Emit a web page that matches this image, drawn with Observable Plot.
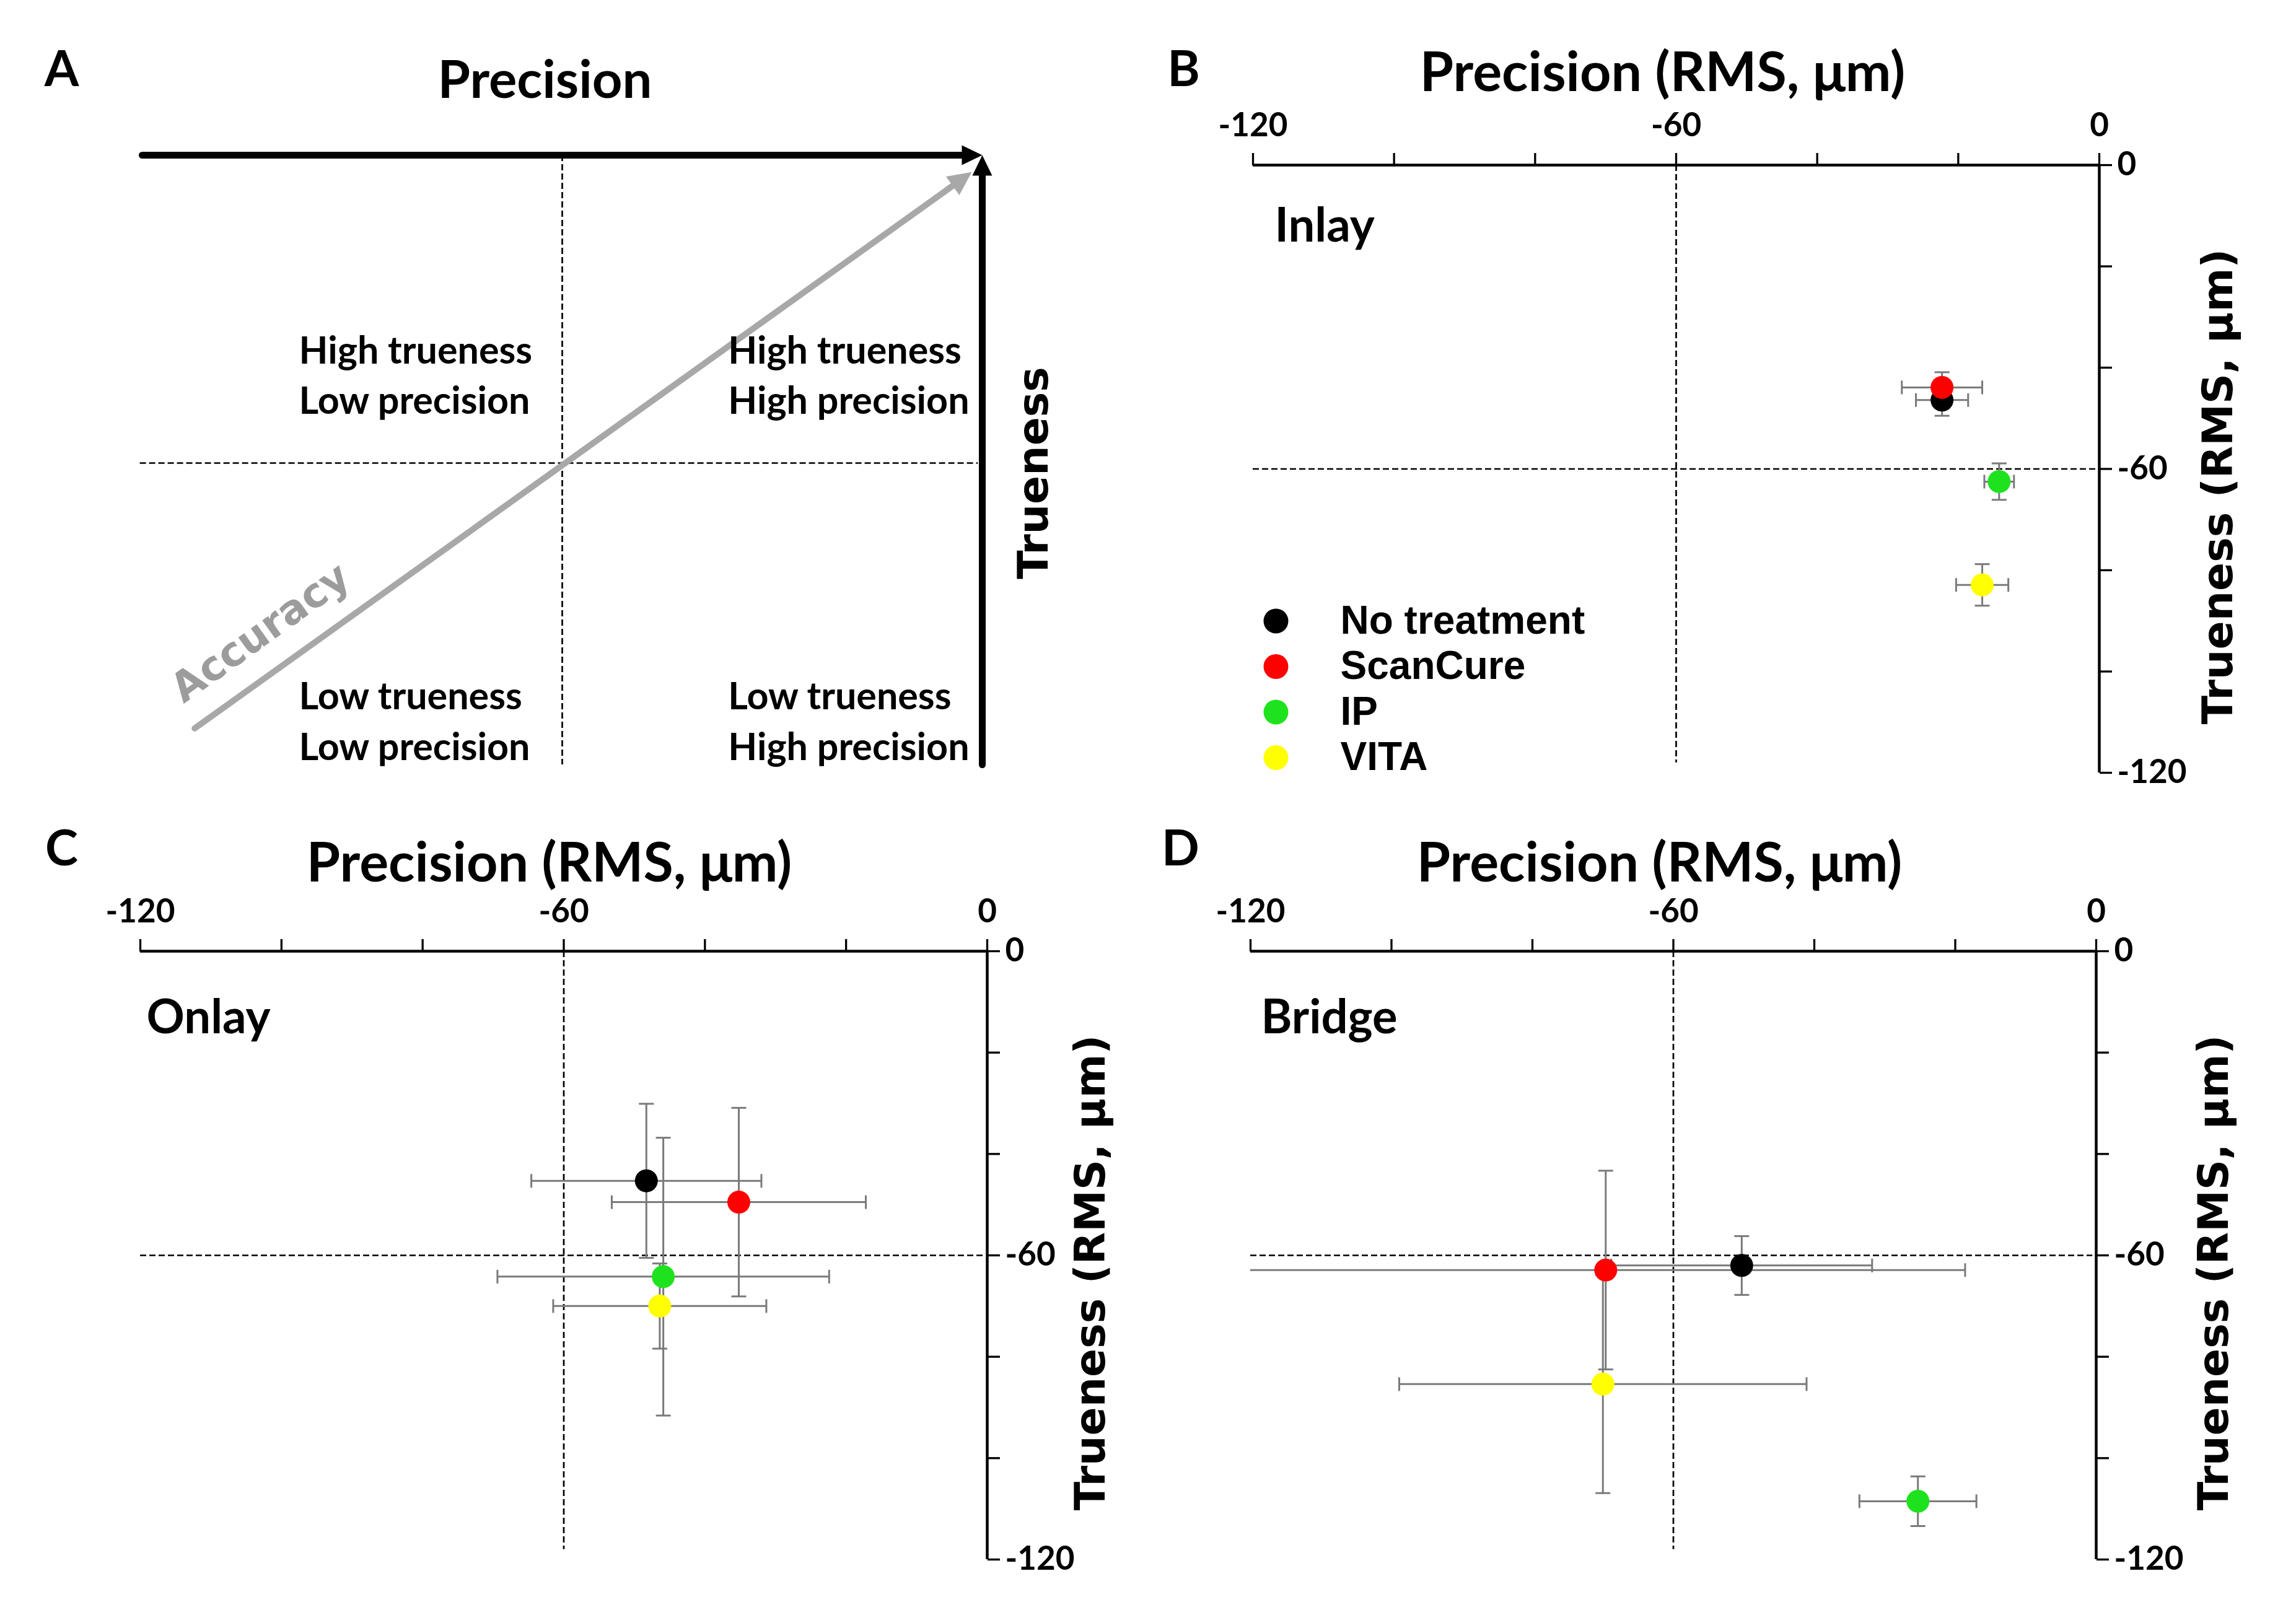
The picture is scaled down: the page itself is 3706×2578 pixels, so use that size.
<!DOCTYPE html>
<html><head><meta charset="utf-8">
<script src="https://cdn.jsdelivr.net/npm/d3@7"></script>
<script src="https://cdn.jsdelivr.net/npm/@observablehq/plot@0.6"></script>
<style>
html,body{margin:0;padding:0;background:#fff;}
#fig{position:relative;width:3706px;height:2578px;background:#fff;overflow:hidden;}
#fig svg{position:absolute;left:0;top:0;max-width:none;}
</style></head><body><div id="fig"></div>
<script>
// ---------- data ----------
const groups = ["No treatment", "ScanCure", "IP", "VITA"];
const groupColors = ["#000000", "#ff0000", "#1fe21f", "#ffff00"];
const xTicks = [-120, -100, -80, -60, -40, -20, 0];
const yTicks = [-120, -100, -80, -60, -40, -20, 0];
const tickLabels = [-120, -60, 0];

// Inlay (B)
const inlayPrecision   = [-22.3, -22.3, -14.2, -16.6];
const inlayPrecisionSD = [3.7, 5.7, 2.1, 3.7];
const inlayTrueness    = [-46.4, -43.9, -62.5, -82.9];
const inlayTruenessSD  = [3.1, 3.0, 3.6, 4.1];
// Onlay (C)
const onlayPrecision   = [-48.3, -35.2, -45.9, -46.4];
const onlayPrecisionSD = [16.3, 18.0, 23.5, 15.1];
const onlayTrueness    = [-45.3, -49.5, -64.2, -70.0];
const onlayTruenessSD  = [15.2, 18.6, 27.4, 8.4];
// Bridge (D)
const bridgePrecision   = [-50.3, -69.6, -25.3, -70.0];
const bridgePrecisionSD = [18.5, 51.0, 8.3, 28.9];
const bridgeTrueness    = [-62.0, -62.9, -108.5, -85.4];
const bridgeTruenessSD  = [5.8, 19.6, 4.9, 21.5];

// Diagram (A)
const quadrantLabels = [
  {x: -97.6, y: -42.4, text: "High trueness\nLow precision"},
  {x: -36.3, y: -42.4, text: "High trueness\nHigh precision"},
  {x: -97.6, y: -109.8, text: "Low trueness\nLow precision"},
  {x: -36.3, y: -109.8, text: "Low trueness\nHigh precision"}
];
const diagramArrows = [
  {x1: -120, y1: 0, x2: 0, y2: 0, color: "#000000", width: 11, head: 1},
  {x1: 0, y1: -118.8, x2: 0, y2: 0, color: "#000000", width: 11, head: 1},
  {x1: -112.5, y1: -111.7, x2: -1.5, y2: -3.3, color: "#a8a8a8", width: 10, head: 1.15}
];
const accuracyLabel = {x: -103.1, y: -93.1, text: "Accuracy"};

// ---------- layout ----------
const W = 3706, H = 2578;
const F = {
  A: {left: 229, right: 1585, top: 250, bottom: 1244},
  B: {left: 2022, right: 3388, top: 266, bottom: 1247},
  C: {left: 226, right: 1593, top: 1535, bottom: 2517},
  D: {left: 2018, right: 3383, top: 1535, bottom: 2517}
};
const CAL = "Lato, 'Open Sans', sans-serif";
const VER = "'DejaVu Sans', Verdana, sans-serif";
const ARI = "'Liberation Sans', Arial, sans-serif";
const GRAY = "#7a7a7a";
const dashed = {stroke: "black", strokeWidth: 2.7, strokeDasharray: "10,5"};
const vCap = {draw(c) { c.moveTo(0, -11); c.lineTo(0, 11); }};
const hCap = {draw(c) { c.moveTo(-12, 0); c.lineTo(12, 0); }};
const makeHead = s => ({draw(c) { c.moveTo(0, 0); c.lineTo(16 * s, 33 * s); c.lineTo(-16 * s, 33 * s); c.closePath(); }});
const fmt = d => tickLabels.includes(d) ? String(d) : "";

function label(f, text, X, Y, o = {}) {
  return Plot.text([text], {
    frameAnchor: "top-left", dx: X - f.left, dy: Y - f.top, text: d => d,
    textAnchor: "middle", lineAnchor: "middle",
    fill: "black", fontFamily: CAL, fontWeight: "bold", ...o
  });
}
function base(f, marks, extra = {}) {
  return Plot.plot({
    width: W, height: H,
    marginLeft: f.left, marginRight: W - f.right, marginTop: f.top, marginBottom: H - f.bottom,
    x: {domain: [-120, 0]}, y: {domain: [-120, 0]},
    color: {domain: groups, range: groupColors},
    style: {background: "transparent", overflow: "visible"},
    marks, ...extra
  });
}

function diagramPanel() {
  const f = F.A;
  const kx = (f.right - f.left) / 120, ky = (f.bottom - f.top) / 120;
  const marks = [
    Plot.ruleX([-60], {y1: 0, y2: -118.8, ...dashed}),
    Plot.ruleY([-60], {x1: -120.3, x2: -0.6, ...dashed}),
    ...diagramArrows.map(a => Plot.arrow([a], {
      x1: "x1", y1: "y1", x2: "x2", y2: "y2",
      stroke: a.color, strokeWidth: a.width, headLength: 0, insetEnd: 20
    })),
    ...diagramArrows.map(a => Plot.dot([a], {
      x: "x2", y: "y2", symbol: makeHead(a.head), fill: a.color, stroke: "none", r: 10,
      rotate: Math.atan2((a.x2 - a.x1) * kx, (a.y2 - a.y1) * ky) * 180 / Math.PI
    })),
    Plot.text(quadrantLabels, {x: "x", y: "y", text: "text", textAnchor: "start", lineHeight: 1.33,
      fontFamily: CAL, fontWeight: "bold", fontSize: 61, fill: "black"}),
    Plot.text([accuracyLabel], {x: "x", y: "y", text: "text", rotate: -35.6,
      fontFamily: VER, fontWeight: "bold", fontSize: 66, fill: "#9c9c9c"}),
    label(f, "A", 99, 113, {fontSize: 80}),
    label(f, "Precision", 879, 130, {fontSize: 85}),
    label(f, "Trueness", 1669, 763, {fontSize: 68, fontFamily: VER, rotate: -90})
  ];
  return base(f, marks, {x: {domain: [-120, 0], axis: null}, y: {domain: [-120, 0], axis: null}});
}

function dataPanel(key, letter, name, P, PS, T, TS, pos, legend) {
  const f = F[key];
  const rows = groups.map((g, i) => ({group: g, p: P[i], ps: PS[i], t: T[i], ts: TS[i]}));
  const bar = {stroke: GRAY, strokeWidth: 3};
  const marks = [
    Plot.ruleX([-60], {y1: 0, y2: -118, ...dashed}),
    Plot.ruleY([-60], {x1: -120, x2: -0.5, ...dashed}),
    Plot.ruleY(rows, {y: "t", x1: d => d.p - d.ps, x2: d => d.p + d.ps, ...bar, clip: true}),
    Plot.ruleX(rows, {x: "p", y1: d => d.t - d.ts, y2: d => d.t + d.ts, ...bar, clip: true}),
    Plot.dot(rows, {x: d => d.p - d.ps, y: "t", symbol: vCap, fill: "none", ...bar, clip: true}),
    Plot.dot(rows, {x: d => d.p + d.ps, y: "t", symbol: vCap, fill: "none", ...bar, clip: true}),
    Plot.dot(rows, {x: "p", y: d => d.t - d.ts, symbol: hCap, fill: "none", ...bar, clip: true}),
    Plot.dot(rows, {x: "p", y: d => d.t + d.ts, symbol: hCap, fill: "none", ...bar, clip: true}),
    Plot.dot(rows, {x: "p", y: "t", fill: "group", r: 18.5}),
    Plot.ruleY([0], {x1: -120, x2: 0, stroke: "black", strokeWidth: 4.5}),
    Plot.ruleX([0], {y1: 0, y2: -120, stroke: "black", strokeWidth: 4.5}),
    Plot.axisX({anchor: "top", ticks: xTicks, tickFormat: fmt, tickSize: 20, tickPadding: 27,
      strokeWidth: 3.3, fontSize: 53, fontFamily: CAL, fontWeight: "bold", fill: "black", label: null}),
    Plot.axisY({anchor: "right", ticks: yTicks, tickFormat: fmt, tickSize: 20, tickPadding: 9,
      strokeWidth: 3.3, fontSize: 53, fontFamily: CAL, fontWeight: "bold", fill: "black", label: null}),
    label(f, letter, pos.letter[0], pos.letter[1], {fontSize: 80}),
    label(f, "Precision (RMS, μm)", pos.title[0], pos.title[1], {fontSize: 88}),
    label(f, name, pos.name[0], pos.name[1], {fontSize: 76, textAnchor: "start"}),
    label(f, "Trueness (RMS, μm)", pos.right[0], pos.right[1], {fontSize: 68, fontFamily: VER, rotate: -90})
  ];
  if (legend) {
    groups.forEach((g, i) => {
      marks.push(Plot.dot([g], {frameAnchor: "top-left", dx: 2059 - f.left, dy: 1002 + 73.5 * i - f.top, r: 20, fill: d => d}));
      marks.push(Plot.text([g], {frameAnchor: "top-left", dx: 2163 - f.left, dy: 1002 + 73.5 * i - f.top,
        text: d => d, textAnchor: "start", lineAnchor: "middle", fontFamily: ARI, fontWeight: "bold", fontSize: 64, fill: "black"}));
    });
  }
  return base(f, marks);
}

const fig = document.getElementById("fig");
fig.append(diagramPanel());
fig.append(dataPanel("B", "B", "Inlay", inlayPrecision, inlayPrecisionSD, inlayTrueness, inlayTruenessSD,
  {letter: [1910, 113], title: [2683, 118], name: [2057, 365], right: [3581, 785]}, true));
fig.append(dataPanel("C", "C", "Onlay", onlayPrecision, onlayPrecisionSD, onlayTrueness, onlayTruenessSD,
  {letter: [99, 1371], title: [886, 1394], name: [236, 1643], right: [1761, 2054]}, false));
fig.append(dataPanel("D", "D", "Bridge", bridgePrecision, bridgePrecisionSD, bridgeTrueness, bridgeTruenessSD,
  {letter: [1905, 1371], title: [2678, 1394], name: [2035, 1643], right: [3574, 2054]}, false));
</script></body></html>
